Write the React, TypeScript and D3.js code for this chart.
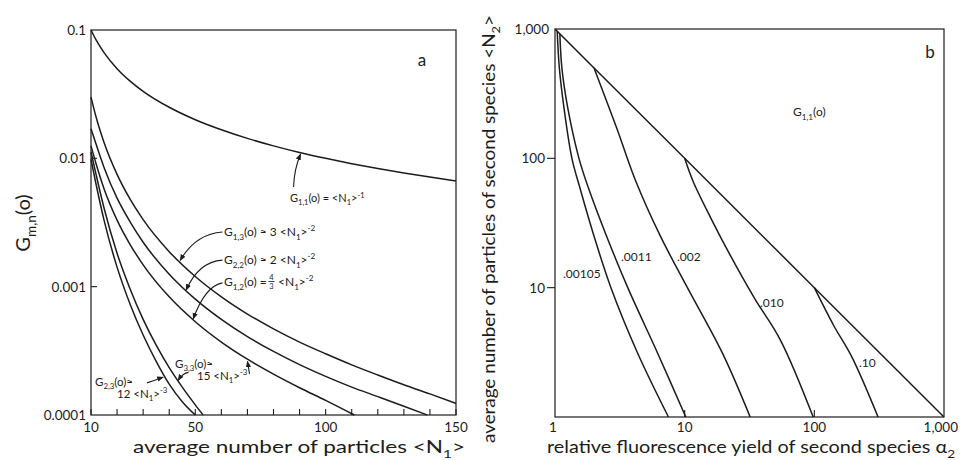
import React from 'react';
import * as d3 from 'd3';

// ---------- Panel a data: G_{m,n}(0) vs <N1> ----------
const A_X_TICKS = [10, 20, 30, 40, 50, 60, 70, 80, 90, 100, 110, 120, 130, 140, 150];
const A_X_LABELS = [10, 50, 100, 150];
const A_Y_LABELS = [0.1, 0.01, 0.001, 0.0001];
const A_Y_LABEL_TEXT = ['0.1', '0.01', '0.001', '0.0001'];

const G11 = [[10, 0.1], [12, 0.0833], [15, 0.0667], [20, 0.05], [25, 0.04], [30, 0.0333], [40, 0.025], [50, 0.02], [60, 0.0167], [70, 0.0143], [80, 0.0125], [90, 0.0111], [100, 0.01], [110, 0.00909], [120, 0.00833], [130, 0.00769], [140, 0.00714], [150, 0.00667]];
const G13 = [[10, 0.03], [12, 0.0208], [15, 0.0133], [20, 0.0075], [25, 0.0048], [30, 0.00333], [40, 0.001875], [50, 0.0012], [60, 0.000833], [70, 0.000612], [80, 0.000469], [90, 0.00037], [100, 0.0003], [110, 0.000246], [120, 0.000205], [130, 0.000172], [140, 0.000146], [150, 0.000123]];
const G22 = [[10, 0.017], [12, 0.0128], [15, 0.0085], [20, 0.0049], [25, 0.0032], [30, 0.00222], [40, 0.00125], [50, 0.0008], [60, 0.000556], [70, 0.000408], [80, 0.000313], [90, 0.000247], [100, 0.0002], [110, 0.000165], [120, 0.000139], [130, 0.000117], [139, 0.0001]];
const G12 = [[10, 0.0125], [12, 0.009], [15, 0.0058], [20, 0.0033], [25, 0.00213], [30, 0.00148], [40, 0.000833], [50, 0.000533], [60, 0.00037], [70, 0.000272], [80, 0.000208], [90, 0.000163], [100, 0.00013], [111, 0.0001]];
const G33 = [[10, 0.0112], [12, 0.0074], [15, 0.0041], [20, 0.00182], [25, 0.00096], [30, 0.000556], [35, 0.00035], [40, 0.000234], [45, 0.000165], [50, 0.00012], [53, 0.0001]];
const G23 = [[10, 0.0098], [12, 0.0062], [15, 0.0033], [20, 0.00142], [25, 0.00073], [30, 0.00042], [35, 0.000262], [40, 0.000174], [45, 0.000127], [50, 0.0001]];

// arrows: [tailN, tailV, ctrlN, ctrlV, tipN, tipV]
const A_ARROWS = [
  [87.7, 0.00598, 87.9, 0.0082, 90.4, 0.0108],
  [60.4, 0.00267, 50, 0.00257, 44.2, 0.0016],
  [60.4, 0.00161, 51.2, 0.00156, 46.5, 0.00094],
  [60.4, 0.00107, 53.8, 0.00101, 49.2, 0.00056],
  [70.8, 0.000209, 70.4, 0.000235, 70, 0.000262],
  [47.4, 0.000215, 45.2, 0.000212, 43.4, 0.000186],
  [31.5, 0.000178, 35.4, 0.00019, 37.7, 0.000197],
];

// ---------- Panel b data: <N2> vs alpha2 ----------
const B_TICK_VALUES = [1, 10, 100, 1000];
const B_TICK_TEXT = ['1', '10', '100', '1,000'];
const DIAGONAL = [[1, 1000], [2, 500], [10, 100], [100, 10], [1000, 1]];
const C00105 = [[1.04, 960], [1.08, 500], [1.17, 250], [1.35, 100], [1.55, 60], [2.0, 25], [2.7, 10], [4.35, 3.1], [7.5, 1]];
const C0011 = [[1.09, 917], [1.13, 500], [1.25, 250], [1.53, 100], [1.8, 60], [2.5, 25], [3.64, 10], [6.2, 3.1], [10.2, 1]];
const C002 = [[2, 500], [3, 170], [4.2, 66.5], [6.5, 25], [10.5, 10], [19.6, 3.1], [32, 1]];
const C010 = [[10, 100], [11.6, 66.5], [15.8, 35], [22.6, 17.6], [34.5, 8.3], [55, 3.9], [98, 1]];
const C10 = [[100, 10], [141, 5.1], [195, 2.9], [310, 1]];
const B_CURVE_LABELS = ['.00105', '.0011', '.002', '.010', '.10'];

const INK = '#1c1c1c';
const FONT = 'Lato, "DejaVu Sans", sans-serif';

type Seg = { t: string; s?: 'sub' | 'sup' };

function Rich({ x, y, size, segs, anchor = 'start', transform, textLength }: any) {
  let cur = 0;
  return (
    <text x={x} y={y} fontSize={size} fontFamily={FONT} fill={INK} textAnchor={anchor} transform={transform}
      textLength={textLength} lengthAdjust={textLength ? 'spacingAndGlyphs' : undefined}>
      {(segs as Seg[]).map((seg, i) => {
        const target = seg.s === 'sub' ? size * 0.3 : seg.s === 'sup' ? -size * 0.4 : 0;
        const dy = target - cur;
        cur = target;
        return (
          <tspan key={i} dy={dy} fontSize={seg.s ? size * 0.68 : size} style={{ whiteSpace: 'pre' }}>{seg.t}</tspan>
        );
      })}
    </text>
  );
}

export default function App() {
  // panel a scales
  const ax = d3.scaleLinear().domain([10, 150]).range([91, 456]);
  const ay = d3.scaleLog().domain([0.0001, 0.1]).range([415, 30]);
  // panel b scales
  const bx = d3.scaleLog().domain([1, 1000]).range([555, 944]);
  const by = d3.scaleLog().domain([1, 1000]).range([417, 29]);

  const lineA = d3.line<number[]>().x(d => ax(d[0])).y(d => ay(d[1])).curve(d3.curveMonotoneX);
  const lineB = d3.line<number[]>().x(d => bx(d[0])).y(d => by(d[1])).curve(d3.curveCatmullRom.alpha(0.5));
  const lineStraight = d3.line<number[]>().x(d => bx(d[0])).y(d => by(d[1]));

  const aCurves = [G11, G13, G22, G12, G33, G23];
  const bCurves = [C00105, C0011, C002, C010, C10];

  const arrowPath = (a: number[]) => {
    const p = d3.path();
    p.moveTo(ax(a[0]), ay(a[1]));
    p.quadraticCurveTo(ax(a[2]), ay(a[3]), ax(a[4]), ay(a[5]));
    return p.toString();
  };

  const [ax0, ax1] = ax.range();
  const [ay0, ay1] = ay.range();
  const [bx0, bx1] = bx.range();
  const [by0, by1] = by.range();

  return (
    <svg width={961} height={460} viewBox="0 0 961 460"
      style={{ position: 'absolute', left: 0, top: 0, background: '#fff', display: 'block' }}>
      <defs>
        <marker id="ah" viewBox="0 0 10 10" refX="9" refY="5" markerWidth="6" markerHeight="6" orient="auto">
          <path d="M0,1 L10,5 L0,9 z" fill={INK} />
        </marker>
      </defs>
      <rect x={0} y={0} width={961} height={460} fill="#fff" />

      {/* ================= Panel a ================= */}
      <rect x={ax0} y={ay1} width={ax1 - ax0} height={ay0 - ay1} fill="none" stroke={INK} strokeWidth={1.2} />
      {A_X_TICKS.map(t => (
        <line key={'axt' + t} x1={ax(t)} x2={ax(t)} y1={ay0} y2={ay0 - 6} stroke={INK} strokeWidth={1.1} />
      ))}
      {A_Y_LABELS.slice(1, 3).map(t => (
        <line key={'ayt' + t} x1={ax0} x2={ax0 + 6} y1={ay(t)} y2={ay(t)} stroke={INK} strokeWidth={1.1} />
      ))}
      {A_X_LABELS.map(t => (
        <text key={'axl' + t} x={ax(t)} y={432} fontSize={13.5} fontFamily={FONT} fill={INK} textAnchor="middle">{t}</text>
      ))}
      {A_Y_LABELS.map((t, i) => (
        <text key={'ayl' + t} x={86} y={ay(t) + 5} fontSize={13.5} fontFamily={FONT} fill={INK} textAnchor="end">{A_Y_LABEL_TEXT[i]}</text>
      ))}
      {aCurves.map((c, i) => (
        <path key={'ac' + i} d={lineA(c) || ''} fill="none" stroke={INK} strokeWidth={1.5} />
      ))}
      {A_ARROWS.map((a, i) => (
        <path key={'aa' + i} d={arrowPath(a)} fill="none" stroke={INK} strokeWidth={1.1} markerEnd="url(#ah)" />
      ))}

      <text x={422} y={66} fontSize={17} fontFamily={FONT} fill={INK} textAnchor="middle">a</text>

      <Rich x={290} y={202} size={11} segs={[{ t: 'G' }, { t: '1,1', s: 'sub' }, { t: '(o) = <N' }, { t: '1', s: 'sub' }, { t: '>' }, { t: '-1', s: 'sup' }]} />
      <Rich x={224} y={236} size={12} segs={[{ t: 'G' }, { t: '1,3', s: 'sub' }, { t: '(o) ≈ 3 <N' }, { t: '1', s: 'sub' }, { t: '>' }, { t: '-2', s: 'sup' }]} />
      <Rich x={224} y={264} size={12} segs={[{ t: 'G' }, { t: '2,2', s: 'sub' }, { t: '(o) ≈ 2 <N' }, { t: '1', s: 'sub' }, { t: '>' }, { t: '-2', s: 'sup' }]} />
      <Rich x={224} y={286} size={12} segs={[{ t: 'G' }, { t: '1,2', s: 'sub' }, { t: '(o) =' }]} />
      <text x={271.5} y={280} fontSize={7.5} fontFamily={FONT} fill={INK} textAnchor="middle">4</text>
      <line x1={268.5} x2={274.5} y1={281.5} y2={281.5} stroke={INK} strokeWidth={0.8} />
      <text x={271.5} y={289} fontSize={7.5} fontFamily={FONT} fill={INK} textAnchor="middle">3</text>
      <Rich x={278} y={286} size={12} segs={[{ t: '<N' }, { t: '1', s: 'sub' }, { t: '>' }, { t: '-2', s: 'sup' }]} />
      <Rich x={175} y={368} size={11.5} segs={[{ t: 'G' }, { t: '3,3', s: 'sub' }, { t: '(o)≈' }]} />
      <Rich x={197} y={380} size={11.5} segs={[{ t: '15 <N' }, { t: '1', s: 'sub' }, { t: '>' }, { t: '-3', s: 'sup' }]} />
      <Rich x={95} y={386} size={11.5} segs={[{ t: 'G' }, { t: '2,3', s: 'sub' }, { t: '(o)≈' }]} />
      <Rich x={117} y={398} size={11.5} segs={[{ t: '12 <N' }, { t: '1', s: 'sub' }, { t: '>' }, { t: '-3', s: 'sup' }]} />

      <Rich x={133} y={453} size={16.5} textLength={332} segs={[{ t: 'average number of particles <N' }, { t: '1', s: 'sub' }, { t: '>' }]} />
      <Rich x={0} y={0} size={20} anchor="middle" transform="translate(30,223) rotate(-90)"
        segs={[{ t: 'G' }, { t: 'm,n', s: 'sub' }, { t: '(o)' }]} />

      {/* ================= Panel b ================= */}
      <rect x={bx0} y={by1} width={bx1 - bx0} height={by0 - by1} fill="none" stroke={INK} strokeWidth={1.2} />
      {B_TICK_VALUES.slice(1, 3).map(t => (
        <g key={'bt' + t}>
          <line x1={bx0 - 8} x2={bx0} y1={by(t)} y2={by(t)} stroke={INK} strokeWidth={1.1} />
          <line x1={bx(t)} x2={bx(t)} y1={by0} y2={by0 - 7} stroke={INK} strokeWidth={1.1} />
        </g>
      ))}
      {B_TICK_VALUES.map((t, i) => (
        <text key={'bxl' + t} x={t === 1000 ? 958 : bx(t) - (t === 1 ? 2 : 0)} y={432} fontSize={13.5} fontFamily={FONT} fill={INK}
          textAnchor={t === 1000 ? 'end' : 'middle'}>{B_TICK_TEXT[i]}</text>
      ))}
      {B_TICK_VALUES.slice(1).map((t, i) => (
        <text key={'byl' + t} x={t === 1000 ? 549 : 545} y={by(t) + 5} fontSize={13.5} fontFamily={FONT} fill={INK} textAnchor="end">{B_TICK_TEXT[i + 1]}</text>
      ))}
      <path d={lineStraight(DIAGONAL) || ''} fill="none" stroke={INK} strokeWidth={1.5} />
      {bCurves.map((c, i) => (
        <path key={'bc' + i} d={lineB(c) || ''} fill="none" stroke={INK} strokeWidth={1.5} />
      ))}
      <text x={563} y={278} fontSize={12} fontFamily={FONT} fill={INK}>{B_CURVE_LABELS[0]}</text>
      <text x={621} y={261} fontSize={12} fontFamily={FONT} fill={INK}>{B_CURVE_LABELS[1]}</text>
      <text x={677} y={261} fontSize={12} fontFamily={FONT} fill={INK}>{B_CURVE_LABELS[2]}</text>
      <text x={760} y={307} fontSize={12} fontFamily={FONT} fill={INK}>{B_CURVE_LABELS[3]}</text>
      <text x={859} y={367} fontSize={12} fontFamily={FONT} fill={INK}>{B_CURVE_LABELS[4]}</text>

      <Rich x={793} y={116} size={12} segs={[{ t: 'G' }, { t: '1,1', s: 'sub' }, { t: '(o)' }]} />
      <text x={930} y={58} fontSize={17} fontFamily={FONT} fill={INK} textAnchor="middle">b</text>

      <Rich x={547} y={453} size={16.5} textLength={408} segs={[{ t: 'relative fluorescence yield of second species α' }, { t: '2', s: 'sub' }]} />
      <Rich x={0} y={0} size={17} anchor="middle" transform="translate(495,229) rotate(-90)" textLength={428}
        segs={[{ t: 'average number of particles of second species <N' }, { t: '2', s: 'sub' }, { t: '>' }]} />
    </svg>
  );
}
